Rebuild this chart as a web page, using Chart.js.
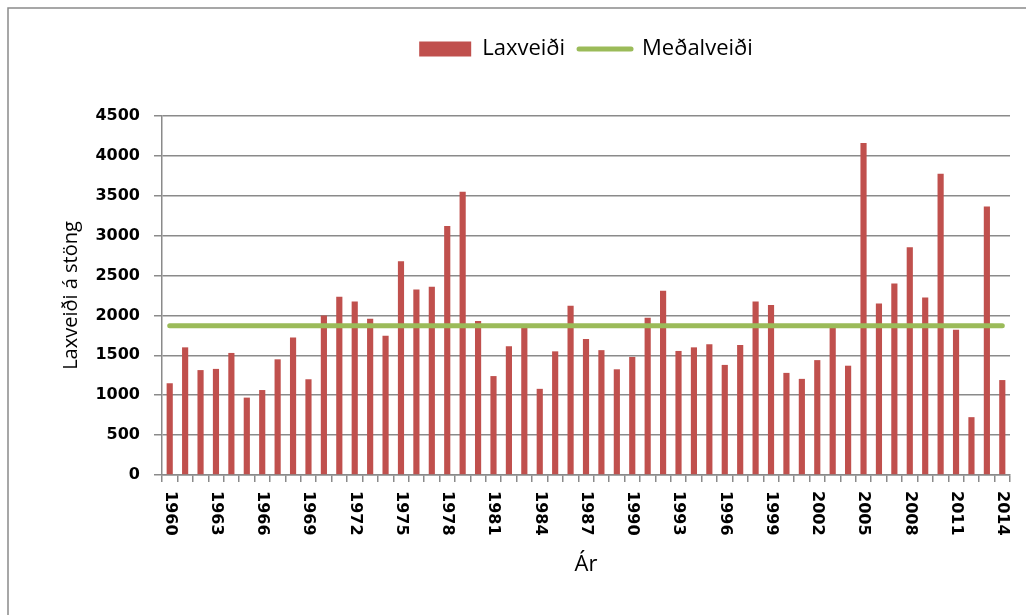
<!DOCTYPE html>
<html>
<head>
<meta charset="utf-8">
<script src="https://cdn.jsdelivr.net/npm/chart.js@4/dist/chart.umd.min.js"></script>
<style>
  body { margin: 0; background: #fff; }
</style>
</head>
<body>
<canvas id="myChart" width="1026" height="615"></canvas>
<script>
var years = ['1960','1961','1962','1963','1964','1965','1966','1967','1968','1969',
             '1970','1971','1972','1973','1974','1975','1976','1977','1978','1979',
             '1980','1981','1982','1983','1984','1985','1986','1987','1988','1989',
             '1990','1991','1992','1993','1994','1995','1996','1997','1998','1999',
             '2000','2001','2002','2003','2004','2005','2006','2007','2008','2009',
             '2010','2011','2012','2013','2014'];
var laxveidi = [1150, 1600, 1315, 1330, 1530, 970, 1065, 1450, 1725, 1200,
                2000, 2235, 2175, 1960, 1745, 2680, 2325, 2360, 3120, 3550,
                1930, 1240, 1615, 1845, 1080, 1550, 2120, 1705, 1565, 1325,
                1480, 1970, 2310, 1555, 1600, 1640, 1380, 1630, 2175, 2130,
                1280, 1205, 1440, 1845, 1370, 4160, 2150, 2400, 2855, 2225,
                3775, 1820, 725, 3365, 1190];
var medalveidi = 1870;
var yTicks = [0, 500, 1000, 1500, 2000, 2500, 3000, 3500, 4000, 4500];
var shownYears = ['1960','1963','1966','1969','1972','1975','1978','1981','1984','1987',
                  '1990','1993','1996','1999','2002','2005','2008','2011','2014'];

var red = '#c0504d';
var green = '#9bbb59';
var gray = '#8a8a8a';
var textFont = '"Open Sans", "DejaVu Sans", sans-serif';

// frame round the chart and the rotated year labels (read top to bottom)
var framePlugin = {
    id: 'frame',
    beforeInit: function(chart) {
        // empty box between legend and plot, to push the plot down
        Chart.layouts.addBox(chart, {
            position: 'top',
            weight: 0,
            fullSize: false,
            options: {},
            isHorizontal: function() { return true; },
            update: function(maxWidth) { this.width = maxWidth; this.height = 46; },
            draw: function() {}
        });
    },
    beforeDraw: function(chart) {
        var ctx = chart.ctx;
        ctx.save();
        ctx.fillStyle = '#fff';
        ctx.fillRect(0, 0, chart.width, chart.height);
        ctx.strokeStyle = '#8a8a8a';
        ctx.lineWidth = 1.5;
        ctx.strokeRect(8, 8, chart.width + 20, chart.height + 20);
        ctx.restore();
    },
    afterDraw: function(chart) {
        var ctx = chart.ctx;
        var xs = chart.scales.x;
        ctx.save();
        ctx.fillStyle = '#000';
        ctx.font = 'bold 16px "DejaVu Sans", sans-serif';
        ctx.textAlign = 'left';
        ctx.textBaseline = 'middle';
        years.forEach(function(y, i) {
            if (shownYears.indexOf(y) < 0) return;
            ctx.save();
            ctx.translate(xs.getPixelForTick(i), xs.top + 16);
            ctx.rotate(Math.PI / 2);
            ctx.fillText(y, 0, 0);
            ctx.restore();
        });
        ctx.restore();
    }
};

var chart = new Chart(document.getElementById('myChart').getContext('2d'), {
    type: 'bar',
    data: {
        labels: years,
        datasets: [
            {
                label: 'Laxveiði',
                data: laxveidi,
                backgroundColor: red,
                barPercentage: 0.4,
                categoryPercentage: 1,
                order: 1
            },
            {
                type: 'line',
                label: 'Meðalveiði',
                data: years.map(function() { return medalveidi; }),
                borderColor: green,
                backgroundColor: green,
                borderWidth: 5,
                borderCapStyle: 'round',
                pointRadius: 0,
                order: 0
            }
        ]
    },
    options: {
        responsive: false,
        animation: false,
        layout: {
            padding: { left: 40, top: 24, right: 16, bottom: 20 }
        },
        plugins: {
            tooltip: { enabled: false },
            legend: {
                fullSize: false,
                labels: {
                    font: { family: textFont, size: 22 },
                    color: '#000',
                    usePointStyle: true,
                    pointStyleWidth: 52,
                    boxHeight: 15,
                    padding: 14,
                    sort: function(a, b) { return a.datasetIndex - b.datasetIndex; },
                    generateLabels: function(chart) {
                        var items = Chart.defaults.plugins.legend.labels.generateLabels(chart);
                        items.forEach(function(it) {
                            if (it.datasetIndex === 0) {
                                it.pointStyle = 'rect';
                                it.lineWidth = 0;
                            } else {
                                it.pointStyle = 'line';
                                it.strokeStyle = green;
                                it.lineWidth = 5;
                                it.lineCap = 'round';
                            }
                        });
                        return items;
                    }
                }
            }
        },
        scales: {
            x: {
                afterFit: function(scale) { scale.height = 120; },
                grid: {
                    offset: true,
                    drawOnChartArea: false,
                    drawTicks: true,
                    tickLength: 7,
                    color: gray,
                    lineWidth: 1.5
                },
                border: { color: gray, width: 1.5 },
                ticks: { display: false, autoSkip: false },
                title: {
                    display: true,
                    text: 'Ár',
                    color: '#000',
                    font: { family: textFont, size: 22 },
                    padding: { top: 0, bottom: 17 }
                }
            },
            y: {
                min: 0,
                max: 4500,
                afterFit: function(scale) { scale.width = 122; },
                afterBuildTicks: function(scale) {
                    scale.ticks = yTicks.map(function(v) { return { value: v }; });
                },
                grid: {
                    color: gray,
                    lineWidth: 1.5,
                    tickLength: 8
                },
                border: { color: gray, width: 1.5 },
                ticks: {
                    color: '#000',
                    padding: 14,
                    font: { family: '"DejaVu Sans", sans-serif', size: 16, weight: 'bold' },
                    callback: function(value) { return String(value); }
                },
                title: {
                    display: true,
                    text: 'Laxveiði á stöng',
                    color: '#000',
                    font: { family: textFont, size: 20 },
                    padding: { top: 19, bottom: 0 }
                }
            }
        }
    },
    plugins: [framePlugin]
});
</script>
</body>
</html>
